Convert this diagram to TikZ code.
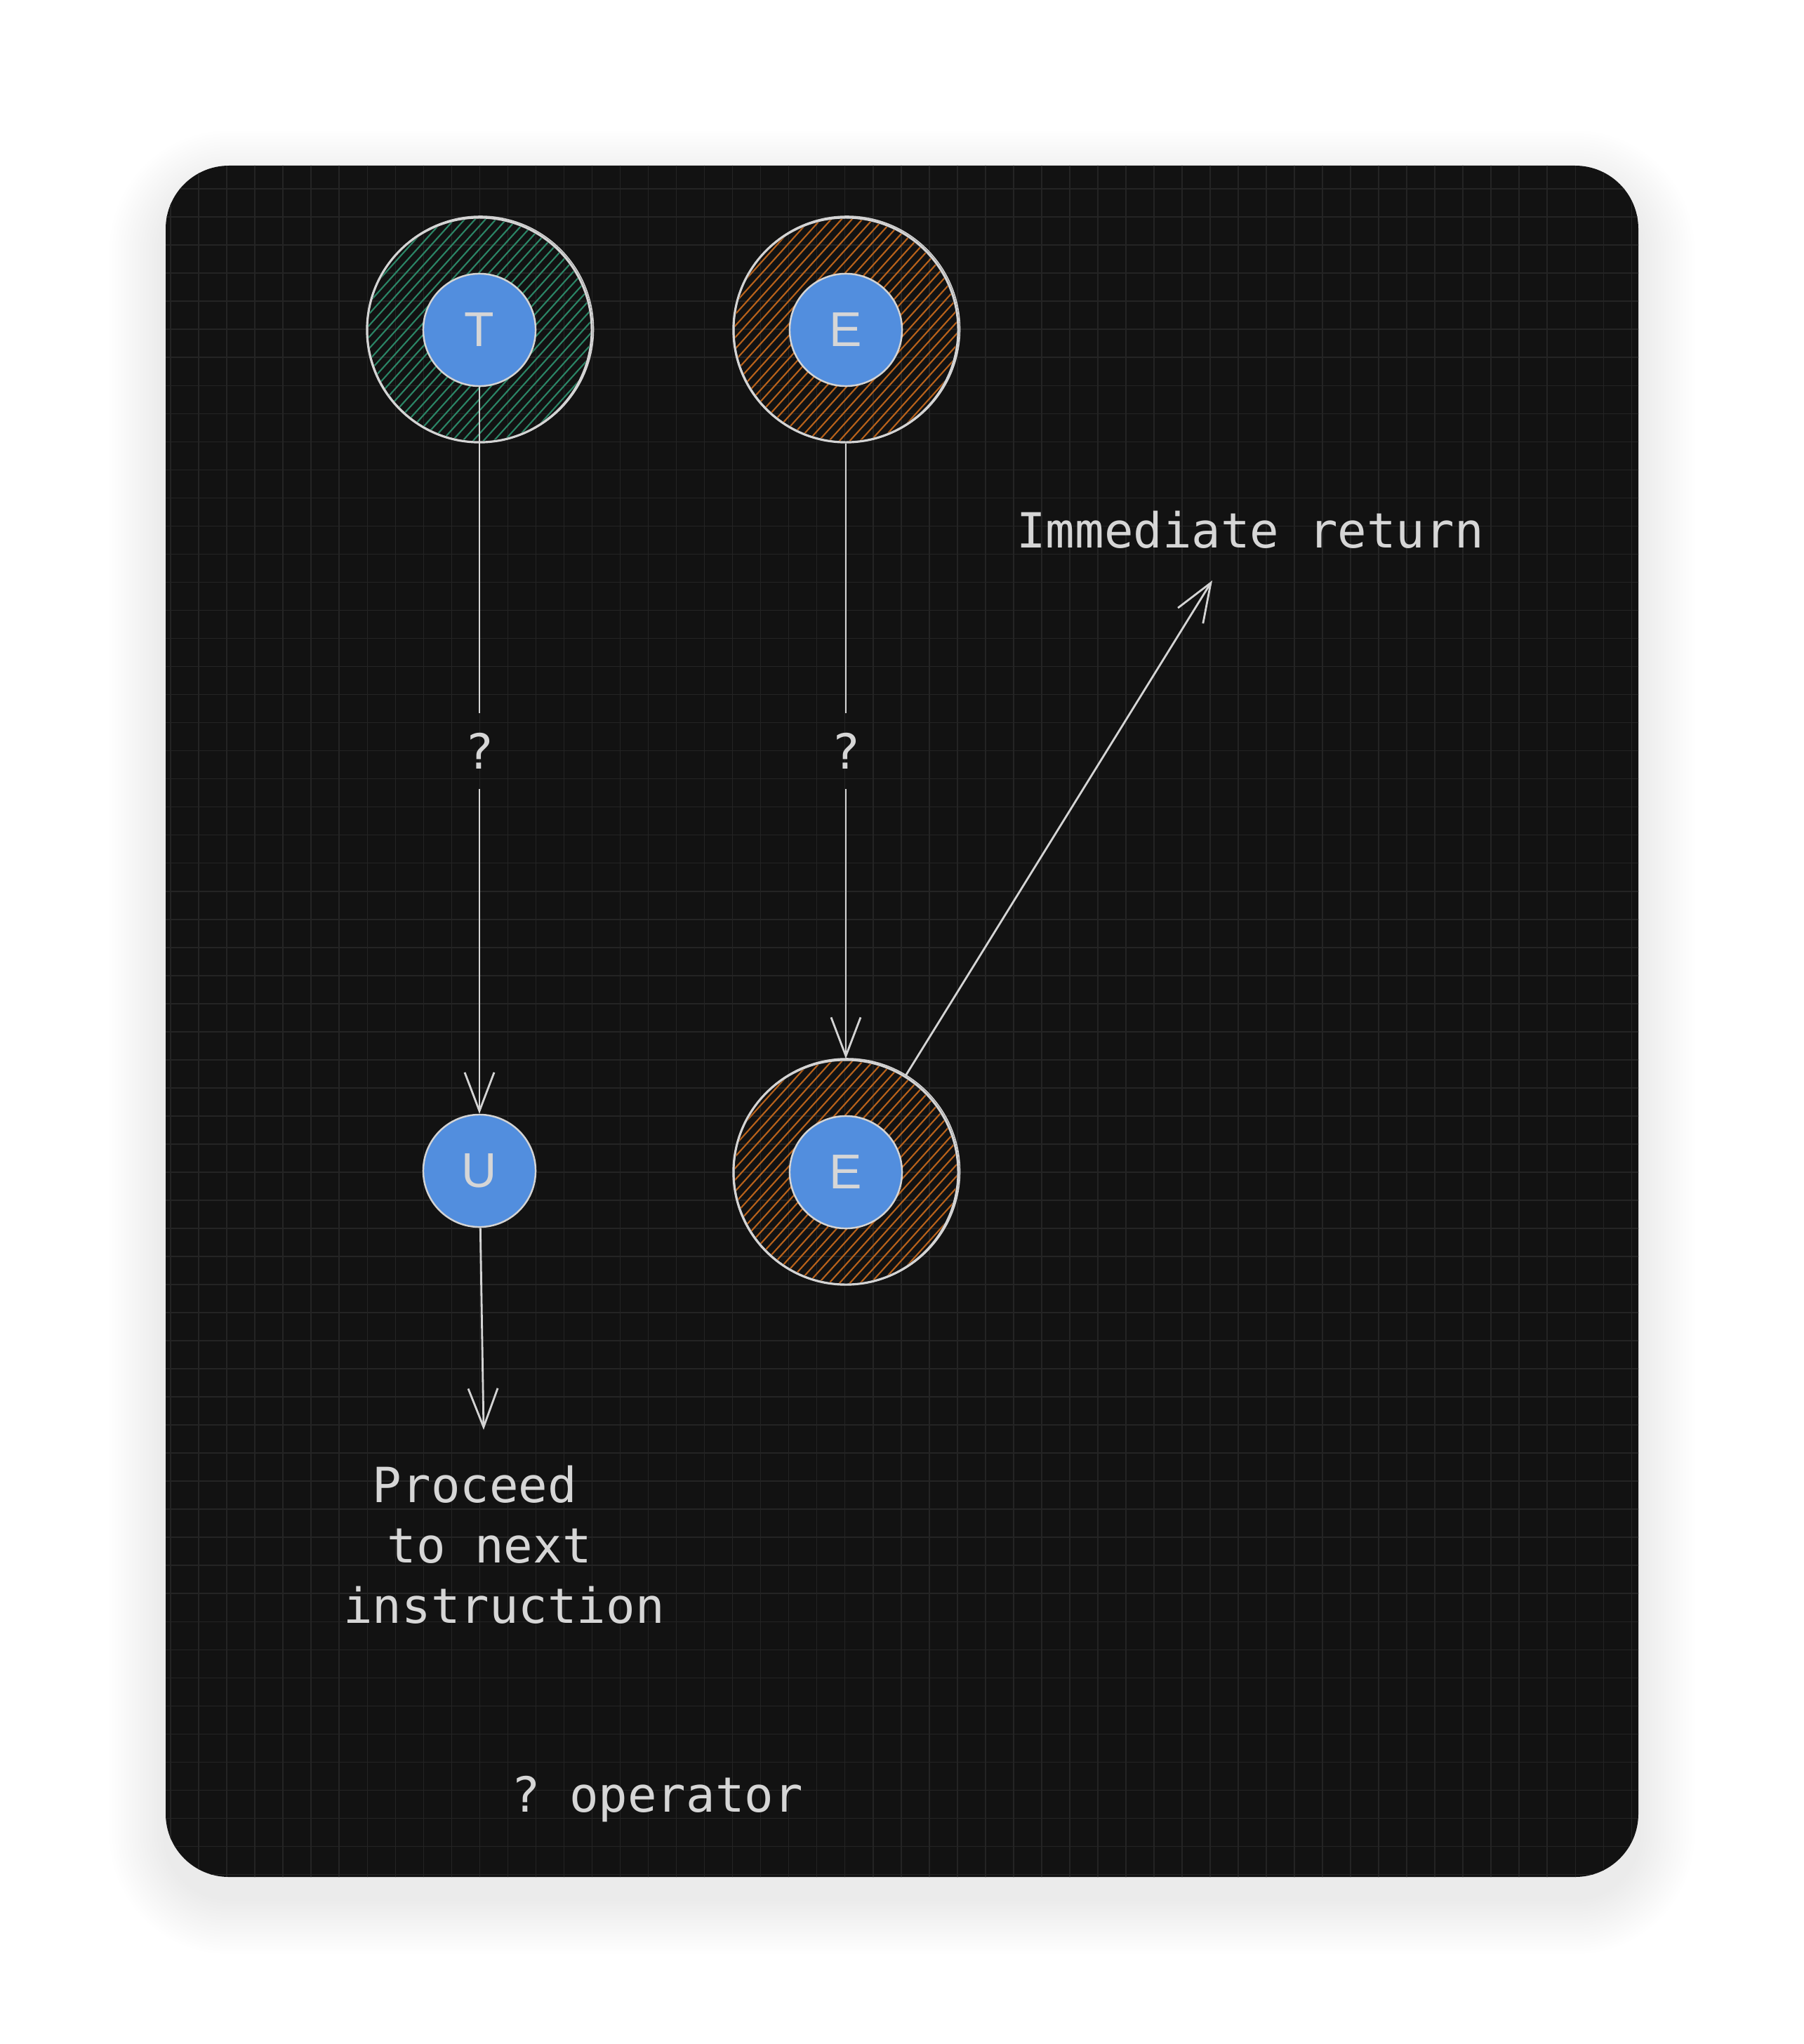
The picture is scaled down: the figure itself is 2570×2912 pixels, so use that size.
\documentclass[tikz,border=0pt]{standalone}
\usepackage{fontspec}
\setmainfont{Liberation Sans}
\setmonofont{DejaVu Sans Mono}
\usetikzlibrary{arrows.meta}

\definecolor{cardbg}{HTML}{121212}
\definecolor{gridgrey}{HTML}{242424}
\definecolor{strokegrey}{HTML}{D4D4D4}
\definecolor{textgrey}{HTML}{D6D6D6}
\definecolor{tokenblue}{HTML}{528EDE}
\definecolor{hatchgreen}{HTML}{2B8566}
\definecolor{hatchorange}{HTML}{B8621B}

\tikzset{
  ring/.style={circle, minimum size=3.2cm, inner sep=0pt, draw=strokegrey, line width=0.9pt},
  token/.style={circle, minimum size=1.6cm, inner sep=0pt, fill=tokenblue, draw=strokegrey,
    line width=0.7pt, text=textgrey, font=\fontsize{19.8}{24}\selectfont},
  note/.style={inner sep=0pt, text=textgrey, font=\ttfamily\fontsize{19.64}{24.48}\selectfont},
  qmark/.style={note, inner sep=0.28cm},
  flowline/.style={draw=strokegrey, line width=0.8pt,
    -{Straight Barb[length=0.55cm, width=0.42cm, line width=0.8pt]}},
  gridline/.style={draw=gridgrey, line width=0.45pt},
}

% hachure fill of a ring: centre x, centre y, colour
\newcommand{\ringhatch}[3]{%
  \begin{scope}
    \clip (#1,#2) circle[radius=158];
    \begin{scope}[shift={(#1,#2)}, rotate=48]
      \foreach \k in {-165,-154,...,165}
        \draw[#3, line width=0.6pt] (-170,\k) -- (170,\k);
    \end{scope}
  \end{scope}
  \draw[strokegrey, line width=0.45pt] (#1+1.5,#2-1) circle[radius=161];}

\begin{document}
\begin{tikzpicture}[x=0.01cm, y=-0.01cm]
\useasboundingbox (0,0) rectangle (2570,2912);
\fill[white] (0,0) rectangle (2570,2912);

% soft shadow under the card
\foreach \s in {4,8,...,80}
  \fill[black, opacity=0.0035, rounded corners=0.9cm+\s*0.01cm]
    (236-\s,236-\s+30) rectangle (2334+\s,2674+\s+30);

% card and grid
\fill[cardbg, rounded corners=0.9cm] (236,236) rectangle (2334,2674);
\begin{scope}
  \clip[rounded corners=0.9cm] (236,236) rectangle (2334,2674);
  \begin{scope}[shift={(3,29)}]
    \draw[gridline, step=0.4cm] (200,180) grid (2360,2680);
  \end{scope}
\end{scope}

% rings
\ringhatch{683}{470}{hatchgreen}
\ringhatch{1205}{470}{hatchorange}
\ringhatch{1205}{1670}{hatchorange}
\node[ring] (ringT) at (683,470) {};
\node[ring] (ringE) at (1205,470) {};
\node[ring] (ringEb) at (1205,1670) {};

% tokens
\node[token] (t) at (683,470) {T};
\node[token] (e) at (1205,470) {E};
\node[token] (eb) at (1205,1670) {E};
\node[token] (u) at (683,1668) {U};

% labels
\node[qmark] (qT) at (683,1070) {?};
\node[qmark] (qE) at (1205,1070) {?};
\node[note, anchor=base] (imret) at (1781,780) {Immediate return};
\node[note, anchor=north, align=center] (proceed) at (718,2087)
  {Proceed\phantom{xx}\\to next\phantom{x}\\instruction};
\node[note, anchor=base] (title) at (936,2581) {? operator};
\coordinate (retend) at (1727,827);
\coordinate (nextend) at (689,2037);

% connectors
\draw[flowline] (t) -- (qT) -- (u);
\draw[flowline] (ringE) -- (qE) -- (ringEb);
\draw[flowline] (ringEb) -- (retend);
\draw[flowline] (u) -- (nextend);
\end{tikzpicture}
\end{document}
